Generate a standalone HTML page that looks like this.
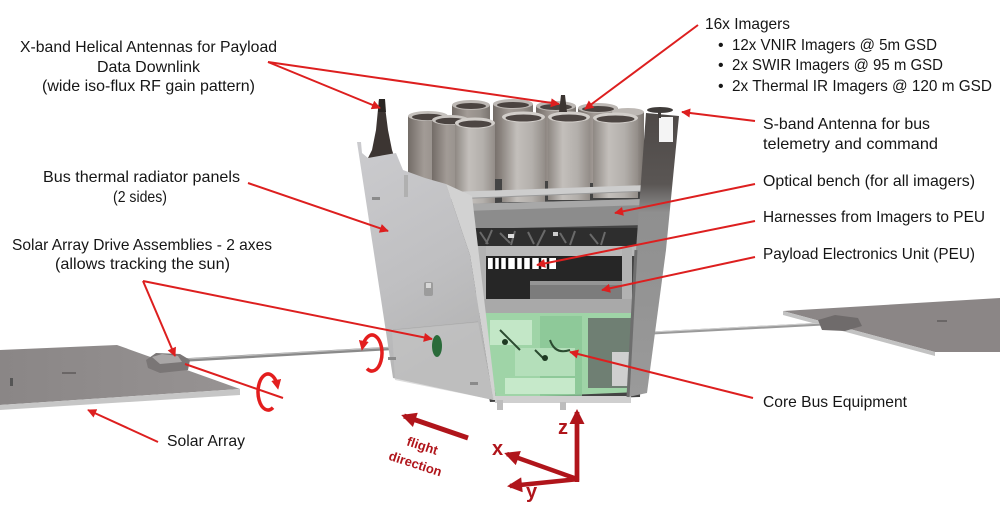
<!DOCTYPE html>
<html><head><meta charset="utf-8"><style>
html,body{margin:0;padding:0;background:#fff;}
svg{display:block;}
text{font-family:"Liberation Sans",sans-serif;}
.t{font-size:16px;fill:#161616;}
.ax{font-weight:bold;fill:#b0151b;}
</style></head><body>
<svg width="1000" height="507" viewBox="0 0 1000 507" xmlns="http://www.w3.org/2000/svg">
<defs>
<marker id="ah" viewBox="0 0 10 10" refX="9" refY="5" markerWidth="12" markerHeight="9" markerUnits="userSpaceOnUse" orient="auto"><path d="M0,0 L10,5 L0,10 z" fill="#dd1f1f"/></marker>
<marker id="ahr" viewBox="0 0 10 10" refX="6" refY="5" markerWidth="10" markerHeight="10" markerUnits="userSpaceOnUse" orient="auto"><path d="M0,0 L10,5 L0,10 z" fill="#e31e1e"/></marker>
<marker id="ahd" viewBox="0 0 10 10" refX="8" refY="5" markerWidth="16" markerHeight="15" markerUnits="userSpaceOnUse" orient="auto"><path d="M0,0 L10,5 L0,10 z" fill="#b0151b"/></marker>
<linearGradient id="cyl" x1="0" x2="1" y1="0" y2="0"><stop offset="0" stop-color="#8e8883"/><stop offset="0.35" stop-color="#c3bfbb"/><stop offset="0.7" stop-color="#b3afab"/><stop offset="1" stop-color="#938d88"/></linearGradient>
<linearGradient id="cylD" x1="0" x2="1" y1="0" y2="0"><stop offset="0" stop-color="#736c67"/><stop offset="0.4" stop-color="#a29b96"/><stop offset="0.75" stop-color="#958f8a"/><stop offset="1" stop-color="#7a746f"/></linearGradient>
<linearGradient id="lp" x1="0" x2="0.3" y1="0" y2="1"><stop offset="0" stop-color="#cbcbce"/><stop offset="0.6" stop-color="#bfbfc1"/><stop offset="1" stop-color="#b3b3b3"/></linearGradient>
<linearGradient id="rs" x1="0" x2="0" y1="0" y2="1"><stop offset="0" stop-color="#4e4947"/><stop offset="0.25" stop-color="#5a5654"/><stop offset="0.35" stop-color="#8f8f8f"/><stop offset="1" stop-color="#9a9a9a"/></linearGradient>
<linearGradient id="sp" x1="0" x2="1" y1="0" y2="0"><stop offset="0" stop-color="#8a8686"/><stop offset="1" stop-color="#979393"/></linearGradient>
</defs>

<!-- Left solar array -->
<polygon points="0,350 117,345 240,389 0,405" fill="url(#sp)"/>
<polygon points="0,405 240,389 240,395 0,410" fill="#c6c6c6"/>
<rect x="10" y="378" width="3" height="8" fill="#555"/>
<rect x="62" y="372" width="14" height="2" fill="#6a6666"/>
<!-- left boom -->
<line x1="185" y1="360" x2="434" y2="346" stroke="#8a8a8a" stroke-width="3.5"/>
<line x1="185" y1="359" x2="434" y2="345" stroke="#c0c0c0" stroke-width="1"/>
<!-- left SADA -->
<polygon points="146,360 156,353 180,354 190,360 188,370 160,373 148,368" fill="#7a7676"/>
<polygon points="152,357 162,354 178,356 182,362 160,364" fill="#a9a6a6"/>

<!-- Right solar array -->
<polygon points="783,311 1000,298 1000,352 935,352" fill="#8b8686"/>
<polygon points="783,311 935,352 935,356 783,315" fill="#c2c2c2"/>
<rect x="937" y="320" width="10" height="2" fill="#6a6666"/>
<line x1="652" y1="333" x2="842" y2="323" stroke="#9a9a9a" stroke-width="3"/>
<line x1="652" y1="332" x2="842" y2="322" stroke="#cfcfcf" stroke-width="1"/>
<polygon points="818,320 835,315 858,318 862,326 845,331 822,330" fill="#6f6b6b"/>

<!-- Body backdrop -->
<polygon points="440,180 648,176 640,397 490,402" fill="#444"/>

<!-- Imagers rear row -->
<g>
<rect x="452" y="105" width="38" height="75" fill="url(#cylD)"/><ellipse cx="471" cy="105" rx="19" ry="5" fill="#bdb8b4"/><ellipse cx="471" cy="106" rx="15" ry="3" fill="#4a4340"/>
<rect x="493" y="104" width="40" height="75" fill="url(#cylD)"/><ellipse cx="513" cy="104" rx="20" ry="5" fill="#bdb8b4"/><ellipse cx="513" cy="105" rx="16" ry="3" fill="#4a4340"/>
<rect x="536" y="106" width="40" height="75" fill="url(#cylD)"/><ellipse cx="556" cy="106" rx="20" ry="5" fill="#bdb8b4"/><ellipse cx="556" cy="107" rx="16" ry="3" fill="#4a4340"/>
<rect x="578" y="108" width="40" height="75" fill="url(#cylD)"/><ellipse cx="598" cy="108" rx="20" ry="5" fill="#bdb8b4"/><ellipse cx="598" cy="109" rx="16" ry="3" fill="#4a4340"/>
<rect x="612" y="112" width="32" height="75" fill="url(#cylD)"/><ellipse cx="628" cy="112" rx="16" ry="4" fill="#bdb8b4"/>
</g>
<!-- middle row -->
<g>
<rect x="408" y="116" width="40" height="72" fill="url(#cylD)"/><ellipse cx="428" cy="116" rx="20" ry="5" fill="#c4c0bc"/><ellipse cx="428" cy="117" rx="16" ry="3.2" fill="#4a4340"/>
<rect x="432" y="120" width="37" height="78" fill="url(#cylD)"/><ellipse cx="450.5" cy="120" rx="18.5" ry="5" fill="#c9c5c1"/><ellipse cx="450.5" cy="121" rx="15" ry="3.2" fill="#4a4340"/>
</g>
<!-- front row -->
<g>
<rect x="455" y="123" width="40" height="82" fill="url(#cyl)"/><ellipse cx="475" cy="123" rx="20" ry="5.5" fill="#d2ceca"/><ellipse cx="475" cy="124" rx="16.5" ry="3.5" fill="#4d4643"/>
<rect x="502" y="117" width="43" height="85" fill="url(#cyl)"/><ellipse cx="523.5" cy="117" rx="21.5" ry="5.5" fill="#d2ceca"/><ellipse cx="523.5" cy="118" rx="18" ry="3.5" fill="#4d4643"/>
<rect x="548" y="117" width="42" height="83" fill="url(#cyl)"/><ellipse cx="569" cy="117" rx="21" ry="5.5" fill="#d2ceca"/><ellipse cx="569" cy="118" rx="17.5" ry="3.5" fill="#4d4643"/>
<rect x="593" y="118" width="45" height="80" fill="url(#cyl)"/><ellipse cx="615.5" cy="118" rx="22.5" ry="5.5" fill="#d2ceca"/><ellipse cx="615.5" cy="119" rx="19" ry="3.5" fill="#4d4643"/>
</g>
<!-- bar across cylinders -->
<polygon points="450,192 648,185 648,191 450,199" fill="#cdcdcd"/>
<line x1="450" y1="199" x2="648" y2="191" stroke="#9a9a9a" stroke-width="1"/>
<!-- optical bench -->
<polygon points="460,204 645,199 645,225 470,229" fill="#8c8c8c"/>
<polygon points="460,204 645,199 645,205 465,211" fill="#a8a8a8"/>
<!-- harness area -->
<rect x="468" y="228" width="176" height="22" fill="#2e2e2e"/>
<path d="M480,232 l8,12 M492,230 l-6,14 M500,233 l10,10 M515,231 l-4,14 M528,232 l6,12 M545,230 l-8,16 M560,233 l6,10 M575,231 l-5,14 M590,234 l8,10 M605,232 l-4,13" stroke="#6a6a6a" stroke-width="2"/>
<rect x="508" y="234" width="6" height="4" fill="#ddd"/><rect x="553" y="232" width="5" height="4" fill="#ccc"/>
<!-- frame -->
<rect x="476" y="246" width="165" height="10" fill="#b9b9b9"/>
<rect x="478" y="256" width="152" height="46" fill="#262626"/>
<rect x="488" y="258" width="68" height="11" fill="#fff"/>
<path d="M494,258 v11 M500,258 v11 M507,258 v11 M516,258 v11 M523,258 v11 M531,258 v11 M540,258 v11 M548,258 v11" stroke="#111" stroke-width="2.5"/>
<rect x="476" y="246" width="10" height="62" fill="#b2b2b2"/>
<rect x="622" y="246" width="10" height="60" fill="#b2b2b2"/>
<rect x="530" y="281" width="92" height="19" fill="#7c7c7c"/>
<rect x="530" y="281" width="92" height="4" fill="#959595"/>
<rect x="476" y="299" width="158" height="14" fill="#a9a9a9"/>
<rect x="632" y="297" width="16" height="18" fill="#d4d4d4"/>
<!-- green core bus -->
<polygon points="482,313 634,313 638,392 496,398" fill="#9fd4a7"/>
<rect x="490" y="320" width="42" height="25" fill="#c3e7c7"/>
<rect x="540" y="316" width="42" height="82" fill="#8ac596" opacity="0.8"/>
<rect x="515" y="348" width="60" height="28" fill="#b4dfba"/>
<rect x="505" y="378" width="70" height="16" fill="#c6e9ca"/>
<rect x="588" y="318" width="46" height="70" fill="#6f7f73"/>
<rect x="612" y="352" width="20" height="34" fill="#cfcfcf"/>
<path d="M500,330 q10,10 20,20 M535,350 l10,10 M550,340 q5,15 20,10" stroke="#2b4a30" stroke-width="2" fill="none"/>
<circle cx="505" cy="342" r="3" fill="#1e3a22"/><circle cx="545" cy="358" r="3" fill="#1e3a22"/>
<rect x="495" y="396" width="136" height="7" fill="#cfcfcf"/>
<rect x="497" y="400" width="6" height="10" fill="#bdbdbd"/><rect x="560" y="402" width="6" height="8" fill="#bdbdbd"/>

<!-- right side strip -->
<polygon points="646,113 679,116 666,250 647,393 628,397 636,250" fill="url(#rs)"/>
<rect x="659" y="117" width="14" height="25" fill="#f4f4f4"/>
<line x1="636" y1="250" x2="628" y2="397" stroke="#6e6e6e" stroke-width="3"/>
<!-- S-band antenna -->
<ellipse cx="660" cy="110" rx="13" ry="3" fill="#3f3b39"/>
<rect x="658" y="110" width="3" height="8" fill="#3f3b39"/>

<!-- X-band antenna (left) base -->
<polygon points="379,99 384,99 388,130 392,150 396,162 366,162 372,150 376,130" fill="#3c3532"/>
<!-- left panel -->
<polygon points="357,142 361,142 362,153 368,158 396,153 403,170 425,178 446,184 470,255 493,400 393,378" fill="url(#lp)"/>
<polygon points="446,184 472,196 496,400 493,400 470,255" fill="#d2d2d2"/>
<line x1="393" y1="330" x2="478" y2="322" stroke="#a6a6a6" stroke-width="1"/>
<polygon points="392,330 478,322 494,400 395,380" fill="#c4c4c4" opacity="0.6"/>
<rect x="424" y="282" width="9" height="14" rx="2" fill="#9c9c9c"/>
<rect x="426" y="283" width="5" height="5" fill="#d8d8d8"/>
<rect x="372" y="197" width="8" height="3" fill="#8a8a8a"/>
<rect x="388" y="357" width="8" height="3" fill="#8a8a8a"/>
<rect x="470" y="382" width="8" height="3" fill="#8a8a8a"/>
<rect x="404" y="175" width="4" height="22" fill="#b0b0b0"/>
<!-- SADA port green -->
<ellipse cx="437" cy="346" rx="5" ry="11" fill="#2a6b3a"/>

<!-- X-band antennas tips -->
<polygon points="379,99 385,99 386,112 378,112" fill="#2a2522"/>
<polygon points="561,95 565,95 567,112 559,112" fill="#3c3532"/>

<!-- label arrows -->
<g stroke="#dd1f1f" stroke-width="2" fill="none" marker-end="url(#ah)">
<line x1="268" y1="62" x2="380" y2="108"/>
<line x1="268" y1="62" x2="559" y2="104"/>
<line x1="698" y1="25" x2="585" y2="109"/>
<line x1="755" y1="121" x2="682" y2="112"/>
<line x1="248" y1="183" x2="388" y2="231"/>
<line x1="755" y1="184" x2="615" y2="213"/>
<line x1="755" y1="221" x2="537" y2="265"/>
<line x1="755" y1="257" x2="602" y2="290"/>
<line x1="753" y1="398" x2="570" y2="352"/>
<line x1="143" y1="281" x2="175" y2="356"/>
<line x1="143" y1="281" x2="432" y2="339"/>
<line x1="158" y1="442" x2="88" y2="410"/>
</g>
<line x1="185" y1="364" x2="283" y2="398" stroke="#dd1f1f" stroke-width="2"/>
<!-- rotation arrows -->
<path d="M367,368.6 A10,18 0 1 0 362.6,346.8" stroke="#e31e1e" stroke-width="3.5" fill="none" marker-end="url(#ahr)"/>
<path d="M273,407.6 A10,18 0 1 1 277.4,385.8" stroke="#e31e1e" stroke-width="3.5" fill="none" marker-end="url(#ahr)"/>

<!-- flight direction -->
<line x1="468" y1="438" x2="404" y2="416" stroke="#b0151b" stroke-width="5" marker-end="url(#ahd)"/>
<text class="ax" font-size="13" transform="translate(421,450) rotate(18)" text-anchor="middle">flight</text>
<text class="ax" font-size="13" transform="translate(414,468) rotate(18)" text-anchor="middle">direction</text>
<!-- axes -->
<g stroke="#b0151b" stroke-width="4.5" marker-end="url(#ahd)">
<line x1="577" y1="480" x2="577" y2="412"/>
<line x1="577" y1="479" x2="507" y2="454"/>
<line x1="579" y1="479" x2="510" y2="486"/>
</g>
<line x1="577" y1="412" x2="577" y2="482" stroke="#b0151b" stroke-width="4.5"/>
<text class="ax" font-size="20" x="558" y="434">z</text>
<text class="ax" font-size="20" x="492" y="455">x</text>
<text class="ax" font-size="20" x="526" y="498">y</text>

<!-- labels -->
<text class="t" x="20" y="52" textLength="257" lengthAdjust="spacingAndGlyphs">X-band Helical Antennas for Payload</text>
<text class="t" x="97" y="72" textLength="103" lengthAdjust="spacingAndGlyphs">Data Downlink</text>
<text class="t" x="42" y="91" textLength="213" lengthAdjust="spacingAndGlyphs">(wide iso-flux RF gain pattern)</text>
<text class="t" x="43" y="182" textLength="197" lengthAdjust="spacingAndGlyphs">Bus thermal radiator panels</text>
<text class="t" x="113" y="202" textLength="54" lengthAdjust="spacingAndGlyphs">(2 sides)</text>
<text class="t" x="12" y="250" textLength="260" lengthAdjust="spacingAndGlyphs">Solar Array Drive Assemblies - 2 axes</text>
<text class="t" x="55" y="269" textLength="175" lengthAdjust="spacingAndGlyphs">(allows tracking the sun)</text>
<text class="t" x="167" y="446" textLength="78" lengthAdjust="spacingAndGlyphs">Solar Array</text>

<text class="t" x="705" y="29" textLength="85" lengthAdjust="spacingAndGlyphs">16x Imagers</text>
<text class="t" x="718" y="50">•</text>
<text class="t" x="732" y="50" textLength="205" lengthAdjust="spacingAndGlyphs">12x VNIR Imagers @ 5m GSD</text>
<text class="t" x="718" y="70">•</text>
<text class="t" x="732" y="70" textLength="211" lengthAdjust="spacingAndGlyphs">2x SWIR Imagers @ 95 m GSD</text>
<text class="t" x="718" y="91">•</text>
<text class="t" x="732" y="91" textLength="260" lengthAdjust="spacingAndGlyphs">2x Thermal IR Imagers @ 120 m GSD</text>
<text class="t" x="763" y="129" textLength="167" lengthAdjust="spacingAndGlyphs">S-band Antenna for bus</text>
<text class="t" x="763" y="149" textLength="175" lengthAdjust="spacingAndGlyphs">telemetry and command</text>
<text class="t" x="763" y="186" textLength="212" lengthAdjust="spacingAndGlyphs">Optical bench (for all imagers)</text>
<text class="t" x="763" y="222" textLength="222" lengthAdjust="spacingAndGlyphs">Harnesses from Imagers to PEU</text>
<text class="t" x="763" y="259" textLength="212" lengthAdjust="spacingAndGlyphs">Payload Electronics Unit (PEU)</text>
<text class="t" x="763" y="407" textLength="144" lengthAdjust="spacingAndGlyphs">Core Bus Equipment</text>
</svg>
</body></html>
